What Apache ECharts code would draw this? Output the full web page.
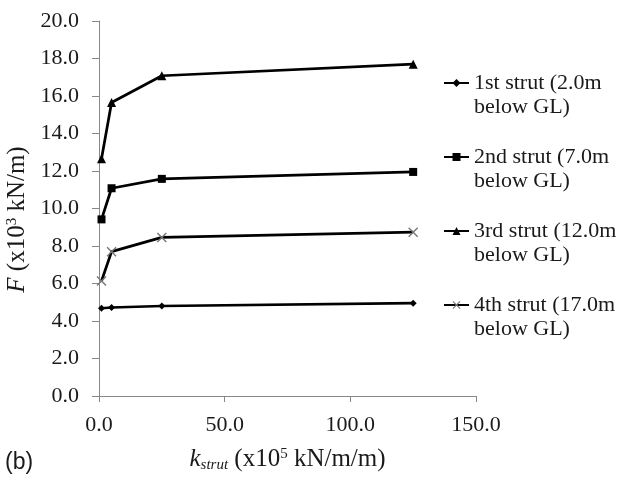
<!DOCTYPE html>
<html>
<head>
<meta charset="utf-8">
<script src="https://cdn.jsdelivr.net/npm/echarts@6/dist/echarts.min.js"></script>
<style>
  html, body { margin: 0; padding: 0; background: #fff; }
  #main { width: 617px; height: 478px; }
</style>
</head>
<body>
<div id="main"></div>
<script>
// stiffness values (x10^5 kN/m/m)
var kStrut = [1, 5, 25, 125];
// strut forces (x10^3 kN/m)
var strut1 = [4.68, 4.72, 4.80, 4.95];
var strut2 = [9.42, 11.08, 11.58, 11.95];
var strut3 = [12.65, 15.65, 17.08, 17.70];
var strut4 = [6.13, 7.70, 8.46, 8.74];
var seriesNames = [
	'1st strut (2.0m\nbelow GL)',
	'2nd strut (7.0m\nbelow GL)',
	'3rd strut (12.0m\nbelow GL)',
	'4th strut (17.0m\nbelow GL)'
];

var crossPath = 'path://M0,1 L1,0 L5,4 L9,0 L10,1 L6,5 L10,9 L9,10 L5,6 L1,10 L0,9 L4,5 Z';

var pairs = function(ys) {
	var out = [];
	for (var i = 0; i < kStrut.length; i++) out.push([kStrut[i], ys[i]]);
	return out;
};

var serif = '"Liberation Serif", "Times New Roman", serif';
var ink = '#1a1a1a';

var makeSeries = function(name, ys, symbol, size, color) {
	return {
		name: name,
		type: 'line',
		data: pairs(ys),
		symbol: symbol,
		symbolSize: size,
		showAllSymbol: true,
		lineStyle: { color: '#000', width: 2.75 },
		itemStyle: { color: color || '#000' },
		animation: false
	};
};

var myChart = echarts.init(document.getElementById('main'));
var option = {
	backgroundColor: '#fff',
	textStyle: { fontFamily: serif },
	grid: { left: 99, right: 141, top: 21, bottom: 82, outerBoundsMode: 'none', containLabel: false },
	legend: {
		orient: 'vertical',
		left: 443,
		top: 47,
		padding: 0,
		itemGap: 2,
		itemWidth: 25,
		itemHeight: 10,
		data: seriesNames,
		// blank first line so the icon sits level with the first text line
		formatter: function(name) { return ' \n' + name; },
		textStyle: {
			fontFamily: serif,
			fontSize: 22,
			lineHeight: 24,
			color: ink
		}
	},
	xAxis: {
		type: 'value',
		min: 0,
		max: 150,
		interval: 50,
		name: '{i|k}{sub|strut}{t| (x10}{sup|5}{t| kN/m/m)}',
		nameLocation: 'middle',
		nameGap: 50,
		nameTextStyle: {
			rich: {
				i: { fontFamily: serif, fontSize: 25, fontStyle: 'italic', color: ink },
				sub: { fontFamily: serif, fontSize: 15, fontStyle: 'italic', color: ink, padding: [12, 0, 0, 0] },
				t: { fontFamily: serif, fontSize: 25, color: ink },
				sup: { fontFamily: serif, fontSize: 15, color: ink, padding: [0, 0, 10, 0] }
			}
		},
		axisLine: { lineStyle: { color: '#888', width: 1 } },
		axisTick: { show: true, length: 6, lineStyle: { color: '#888' } },
		axisLabel: {
			margin: 18,
			fontFamily: serif,
			fontSize: 22,
			color: ink,
			formatter: function(v) { return v.toFixed(1); }
		},
		splitLine: { show: false }
	},
	yAxis: {
		type: 'value',
		min: 0,
		max: 20,
		interval: 2,
		name: '{i|F}{t| (x10}{sup|3}{t| kN/m)}',
		nameLocation: 'middle',
		nameGap: 67,
		nameRotate: 90,
		nameTextStyle: {
			padding: [0, 22, 0, 0],
			rich: {
				i: { fontFamily: serif, fontSize: 25, fontStyle: 'italic', color: ink },
				t: { fontFamily: serif, fontSize: 25, color: ink },
				sup: { fontFamily: serif, fontSize: 15, color: ink, padding: [0, 0, 10, 0] }
			}
		},
		axisLine: { show: true, lineStyle: { color: '#888', width: 1 } },
		axisTick: { show: true, length: 7, lineStyle: { color: '#888' } },
		axisLabel: {
			margin: 20,
			fontFamily: serif,
			fontSize: 22,
			color: ink,
			formatter: function(v) { return v.toFixed(1); }
		},
		splitLine: { show: false }
	},
	graphic: [{
		type: 'text',
		left: 5,
		top: 451,
		style: { text: '(b)', font: '23px "Liberation Sans", Arial, sans-serif', fill: ink }
	}],
	series: [
		makeSeries(seriesNames[0], strut1, 'diamond', 7),
		makeSeries(seriesNames[1], strut2, 'rect', 8),
		makeSeries(seriesNames[2], strut3, 'triangle', 9),
		makeSeries(seriesNames[3], strut4, crossPath, 10, '#777')
	]
};
myChart.setOption(option);
</script>
</body>
</html>
